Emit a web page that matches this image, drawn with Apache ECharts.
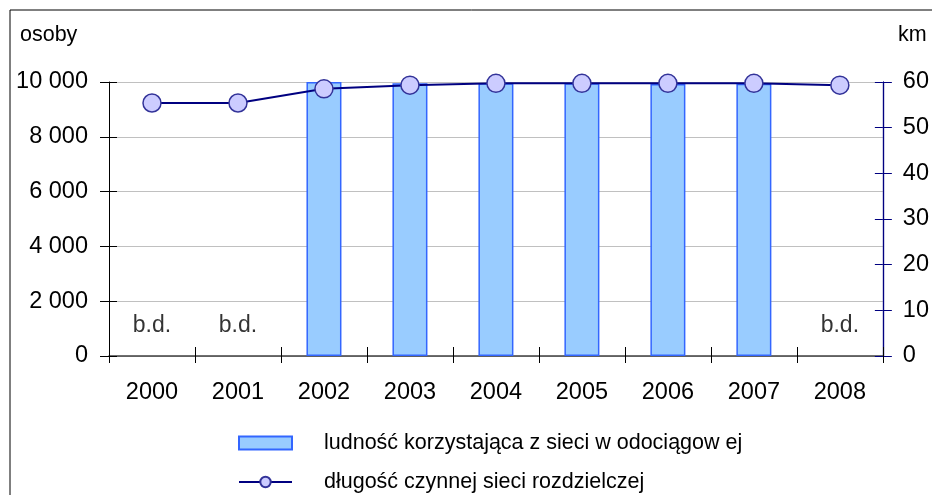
<!DOCTYPE html>
<html>
<head>
<meta charset="utf-8">
<script src="https://cdn.jsdelivr.net/npm/echarts@6/dist/echarts.min.js"></script>
<style>
  * { margin: 0; padding: 0; }
  body { background: #fff; }
  #chart { width: 932px; height: 495px; }
</style>
</head>
<body>
<div id="chart"></div>
<script>
  // dane
  const years = ['2000', '2001', '2002', '2003', '2004', '2005', '2006', '2007', '2008'];
  const ludnosc = [null, null, 10000, 9950, 9950, 9950, 9930, 9940, null];
  const dlugoscSieci = [55.4, 55.4, 58.5, 59.3, 59.7, 59.7, 59.7, 59.7, 59.3];
  const brakDanych = [1100, 1100, null, null, null, null, null, null, 1100];

  const NAME_BAR = 'ludność korzystająca z sieci w odociągow ej';
  const NAME_LINE = 'długość czynnej sieci rozdzielczej';
  const FONT = '"Liberation Sans", Arial, sans-serif';
  const chart = echarts.init(document.getElementById('chart'));

  const fmtOsoby = v => v >= 1000 ? Math.floor(v / 1000) + ' 000' : String(v);

  const legendText = { fontFamily: FONT, fontSize: 21.5, color: '#000', padding: [0, 0, 0, 27] };

  const option = {
    animation: false,
    textStyle: { fontFamily: FONT, color: '#000' },
    grid: { left: 109, right: 49, top: 82, bottom: 139, containLabel: false },
    graphic: [
      { type: 'rect', shape: { x: 10, y: 10, width: 1000, height: 1000 }, style: { fill: 'none', stroke: '#000', lineWidth: 1 }, silent: true },
      { type: 'text', left: 20, top: 24, style: { text: 'osoby', font: '21.5px ' + FONT, fill: '#000' } },
      { type: 'text', left: 898, top: 24, style: { text: 'km', font: '21.5px ' + FONT, fill: '#000' } }
    ],
    legend: [
      {
        left: 233, top: 427,
        itemWidth: 53, itemHeight: 13,
        selectedMode: false,
        data: [{ name: NAME_BAR, icon: 'rect' }],
        textStyle: legendText
      },
      {
        left: 233, top: 466,
        itemWidth: 53, itemHeight: 13,
        selectedMode: false,
        data: [NAME_LINE],
        textStyle: legendText
      }
    ],
    xAxis: [
      {
        type: 'category',
        data: years,
        position: 'bottom',
        axisLine: { onZero: false, lineStyle: { color: '#404040', width: 1.5 } },
        axisTick: { show: true, length: 7, lineStyle: { color: '#000' } },
        axisLabel: { fontSize: 23.5, color: '#000', margin: 25, fontFamily: FONT },
        splitLine: { show: false }
      },
      {
        type: 'category',
        data: years,
        position: 'bottom',
        axisLine: { show: false, onZero: false },
        axisTick: { show: true, inside: true, length: 9, lineStyle: { color: '#000' } },
        axisLabel: { show: false },
        splitLine: { show: false }
      }
    ],
    yAxis: [
      {
        type: 'value',
        min: 0, max: 10000, interval: 2000,
        position: 'left',
        axisLine: { show: true, onZero: false, lineStyle: { color: '#000' } },
        axisTick: { show: true, length: 9, lineStyle: { color: '#000' } },
        axisLabel: { fontSize: 23.5, color: '#000', margin: 21, fontFamily: FONT, formatter: fmtOsoby },
        splitLine: { show: true, lineStyle: { color: '#c0c0c0', width: 1 } }
      },
      {
        type: 'value',
        min: 0, max: 60, interval: 10,
        position: 'right',
        axisLine: { show: true, onZero: false, lineStyle: { color: '#000080', width: 1.2 } },
        axisTick: { show: true, length: 9, lineStyle: { color: '#000080' } },
        axisLabel: { fontSize: 23.5, color: '#000', margin: 20, fontFamily: FONT },
        splitLine: { show: false }
      },
      {
        type: 'value',
        min: 0, max: 10000, interval: 2000,
        position: 'left',
        axisLine: { show: false, onZero: false },
        axisTick: { show: true, inside: true, length: 8, lineStyle: { color: '#000' } },
        axisLabel: { show: false },
        splitLine: { show: false }
      },
      {
        type: 'value',
        min: 0, max: 60, interval: 10,
        position: 'right',
        axisLine: { show: true, onZero: false, lineStyle: { color: '#000080', width: 1.2 } },
        axisTick: { show: true, inside: true, length: 8, lineStyle: { color: '#000080' } },
        axisLabel: { show: false },
        splitLine: { show: false }
      }
    ],
    series: [
      {
        name: NAME_BAR,
        type: 'bar',
        yAxisIndex: 0,
        barWidth: 35,
        data: ludnosc,
        itemStyle: { color: '#99ccff', borderColor: '#3366ff', borderWidth: 1.5 }
      },
      {
        name: NAME_LINE,
        type: 'line',
        yAxisIndex: 1,
        data: dlugoscSieci,
        symbol: 'circle',
        symbolSize: 18,
        lineStyle: { color: '#000080', width: 2 },
        itemStyle: { color: '#ccccff', borderColor: '#333399', borderWidth: 1.5 },
        z: 5
      },
      {
        name: 'b.d.',
        type: 'scatter',
        yAxisIndex: 0,
        data: brakDanych,
        symbolSize: 1,
        itemStyle: { color: 'rgba(0,0,0,0)' },
        silent: true,
        label: { show: true, position: 'inside', formatter: 'b.d.', fontSize: 23, color: '#000', fontFamily: FONT }
      }
    ]
  };

  chart.setOption(option);
</script>
</body>
</html>
